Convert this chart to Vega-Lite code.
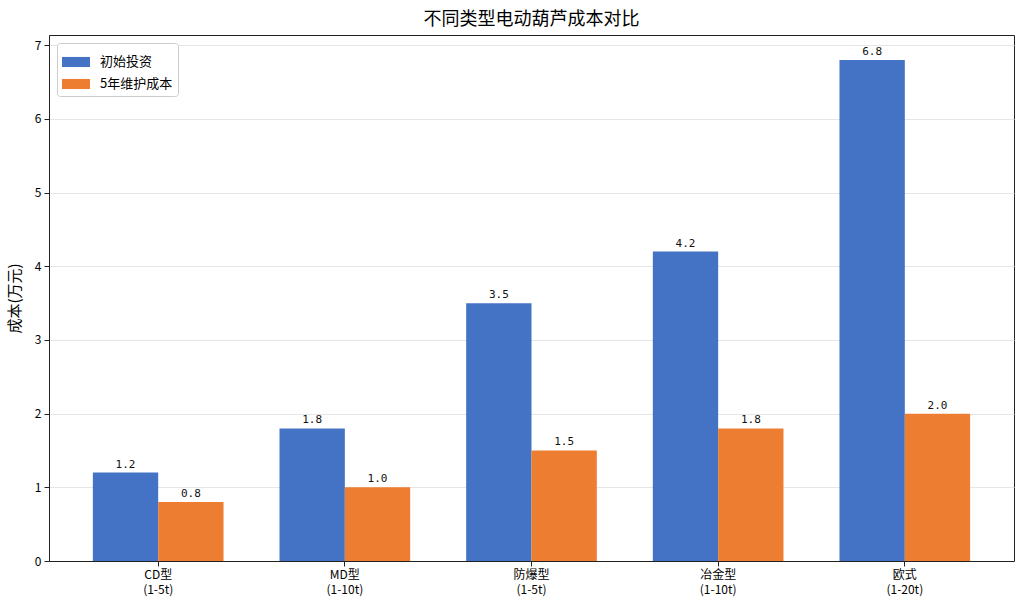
{
  "$schema": "https://vega.github.io/schema/vega-lite/v6.json",
  "width": 965,
  "height": 526,
  "autosize": "none",
  "padding": {"left": 49, "top": 35, "right": 10, "bottom": 49},
  "background": "white",
  "title": {
    "text": "不同类型电动葫芦成本对比",
    "font": "Noto Sans CJK SC",
    "fontSize": 18,
    "fontWeight": "normal",
    "color": "#000",
    "anchor": "middle",
    "offset": 6
  },
  "config": {
    "view": {"stroke": "#222", "strokeWidth": 1},
    "font": "Noto Sans CJK SC"
  },
  "data": {
    "values": [
      {"type": "CD型\n(1-5t)", "series": "初始投资", "cost": 1.2},
      {"type": "CD型\n(1-5t)", "series": "5年维护成本", "cost": 0.8},
      {"type": "MD型\n(1-10t)", "series": "初始投资", "cost": 1.8},
      {"type": "MD型\n(1-10t)", "series": "5年维护成本", "cost": 1.0},
      {"type": "防爆型\n(1-5t)", "series": "初始投资", "cost": 3.5},
      {"type": "防爆型\n(1-5t)", "series": "5年维护成本", "cost": 1.5},
      {"type": "冶金型\n(1-10t)", "series": "初始投资", "cost": 4.2},
      {"type": "冶金型\n(1-10t)", "series": "5年维护成本", "cost": 1.8},
      {"type": "欧式\n(1-20t)", "series": "初始投资", "cost": 6.8},
      {"type": "欧式\n(1-20t)", "series": "5年维护成本", "cost": 2.0}
    ]
  },
  "encoding": {
    "x": {
      "field": "type", "type": "nominal", "sort": null, "title": null,
      "scale": {"paddingInner": 0.3, "paddingOuter": 0.235},
      "axis": {
        "labelAngle": 0,
        "labelExpr": "split(datum.label, '\\n')",
        "labelFont": "Noto Sans CJK SC",
        "labelFontSize": 12,
        "labelLineHeight": 15,
        "labelColor": "#000",
        "labelPadding": 3,
        "tickColor": "#222",
        "tickSize": 5,
        "domainColor": "#222",
        "grid": false
      }
    },
    "xOffset": {
      "field": "series", "type": "nominal",
      "sort": ["初始投资", "5年维护成本"],
      "scale": {"paddingInner": 0, "paddingOuter": 0}
    },
    "y": {
      "field": "cost", "type": "quantitative",
      "title": "成本(万元)",
      "scale": {"domain": [0, 7.14], "nice": false},
      "axis": {
        "values": [0, 1, 2, 3, 4, 5, 6, 7],
        "titleFont": "Noto Sans CJK SC",
        "titleFontSize": 15,
        "titleFontWeight": "normal",
        "titleColor": "#000",
        "titlePadding": 12,
        "labelFontSize": 12,
        "labelColor": "#000",
        "labelPadding": 3,
        "tickColor": "#222",
        "tickSize": 5,
        "domainColor": "#222",
        "gridColor": "#e6e6e6",
        "gridWidth": 1
      }
    }
  },
  "layer": [
    {
      "mark": {"type": "bar"},
      "encoding": {
        "color": {
          "field": "series", "type": "nominal",
          "sort": ["初始投资", "5年维护成本"],
          "scale": {"domain": ["初始投资", "5年维护成本"], "range": ["#4472C4", "#ED7D31"]},
          "legend": {
            "title": null,
            "orient": "top-left",
            "offset": 8,
            "padding": 5,
            "strokeColor": "#cccccc",
            "fillColor": "white",
            "cornerRadius": 3,
            "labelFontSize": 13,
            "labelColor": "#000",
            "labelOffset": 10,
            "rowPadding": 1,
            "symbolType": "M-1,-0.36H1V0.36H-1Z",
            "symbolSize": 784,
            "symbolStrokeWidth": 0
          }
        }
      }
    },
    {
      "mark": {"type": "text", "dy": -8, "fontSize": 11, "font": "DejaVu Sans Mono", "color": "#111"},
      "encoding": {
        "text": {"field": "cost", "type": "quantitative", "format": ".1f"}
      }
    }
  ]
}
